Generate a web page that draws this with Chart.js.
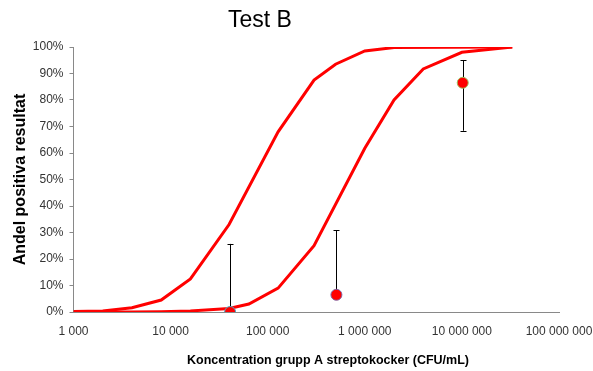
<!DOCTYPE html>
<html>
<head>
<meta charset="utf-8">
<script src="https://cdn.jsdelivr.net/npm/chart.js@4/dist/chart.umd.min.js"></script>
<style>
html,body{margin:0;padding:0;background:#fff;}
#wrap{width:593px;height:371px;position:relative;}
</style>
</head>
<body>
<div id="wrap"><canvas id="c" width="593" height="371"></canvas></div>
<script>
// ---- data ----
const chartTitle = "Test B";
const xAxisTitle = "Koncentration grupp A streptokocker (CFU/mL)";
const yAxisTitle = "Andel positiva resultat";
const xTicks = [1000, 10000, 100000, 1000000, 10000000, 100000000];
const yTicks = [0, 10, 20, 30, 40, 50, 60, 70, 80, 90, 100];

const curve1X = [1000, 2000, 4000, 8000, 16000, 40000, 128000, 300000, 500000, 1000000, 2000000, 33000000];
const curve1Y = [0.2, 0.4, 1.6, 4.5, 12.5, 33, 68, 87.5, 93.5, 98.5, 99.8, 100];
const curve2X = [1000, 2000, 4000, 8000, 16000, 40000, 64000, 128000, 300000, 1000000, 2000000, 4000000, 10000000, 33000000];
const curve2Y = [0, 0, 0, 0.1, 0.4, 1.3, 3, 9, 25, 61.8, 80, 91.7, 98, 100];

const obsX = [41000, 510000, 10200000];
const obsY = [0, 6.5, 86.5];
const obsLow = [0, 6.5, 68.4];
const obsHigh = [25.7, 30.8, 95.1];
const obsBorder = ['#4BACC6', '#8064A2', '#9BBB59'];

const toXY = (xs, ys) => xs.map((x, i) => ({x: x, y: ys[i]}));
const fmtThousands = v => String(Math.round(v)).replace(/\B(?=(\d{3})+(?!\d))/g, ' ');

const errorBars = {
  id: 'errorBars',
  beforeDatasetDraw(chart, args) {
    if (args.index !== 0) return;
    const {ctx, scales: {x, y}} = chart;
    ctx.save();
    ctx.strokeStyle = '#000';
    ctx.lineWidth = 1;
    obsX.forEach((v, i) => {
      const px = Math.round(x.getPixelForValue(v)) + 0.5;
      const yl = y.getPixelForValue(obsLow[i]);
      const yh = y.getPixelForValue(obsHigh[i]);
      ctx.beginPath();
      ctx.moveTo(px, yl); ctx.lineTo(px, yh);
      const cap = 3;
      const yhr = Math.round(yh) + 0.5;
      ctx.moveTo(px - cap, yhr); ctx.lineTo(px + cap, yhr);
      if (obsLow[i] < obsY[i]) {
        const ylr = Math.round(yl) + 0.5;
        ctx.moveTo(px - cap, ylr); ctx.lineTo(px + cap, ylr);
      }
      ctx.stroke();
    });
    ctx.restore();
  }
};

const texts = {
  id: 'texts',
  afterDraw(chart) {
    const ctx = chart.ctx;
    ctx.save();
    ctx.fillStyle = '#000';
    ctx.textAlign = 'center';
    ctx.textBaseline = 'middle';
    ctx.font = '23px "Liberation Sans", Arial, sans-serif';
    ctx.fillText(chartTitle, 260, 21);
    ctx.font = 'bold 12.5px "Liberation Sans", Arial, sans-serif';
    ctx.fillText(xAxisTitle, 328, 361);
    ctx.restore();
  }
};

new Chart(document.getElementById('c'), {
  type: 'scatter',
  data: {
    datasets: [
      {
        label: 'obs',
        data: toXY(obsX, obsY),
        backgroundColor: '#FF0000',
        borderColor: obsBorder,
        pointBorderColor: obsBorder,
        pointBackgroundColor: '#FF0000',
        pointBorderWidth: 1,
        pointRadius: 5.5,
        showLine: false,
        order: 0
      },
      {
        label: 'c1',
        data: toXY(curve1X, curve1Y),
        showLine: true,
        borderColor: '#FF0000',
        borderWidth: 3,
        pointRadius: 0,
        tension: 0,
        order: 1
      },
      {
        label: 'c2',
        data: toXY(curve2X, curve2Y),
        showLine: true,
        borderColor: '#FF0000',
        borderWidth: 3,
        pointRadius: 0,
        tension: 0,
        order: 2
      }
    ]
  },
  options: {
    responsive: false,
    animation: false,
    devicePixelRatio: 1,
    layout: {padding: {left: 0, right: 34, top: 47, bottom: 0}},
    plugins: {legend: {display: false}, tooltip: {enabled: false}, title: {display: false}},
    scales: {
      x: {
        type: 'logarithmic',
        min: 1000, max: 100000000,
        afterBuildTicks: s => { s.ticks = xTicks.map(v => ({value: v})); },
        afterFit: s => { s.height = 59; s.paddingLeft = 0; s.paddingRight = 0; },
        grid: {display: false, drawOnChartArea: false, drawTicks: true, tickLength: 4, color: '#898989'},
        border: {display: true, color: '#898989', width: 1},
        ticks: {
          autoSkip: false, maxRotation: 0, padding: 8,
          color: '#333',
          font: {family: '"Liberation Sans", Arial, sans-serif', size: 12},
          callback: v => fmtThousands(v)
        }
      },
      y: {
        min: 0, max: 100,
        afterBuildTicks: s => { s.ticks = yTicks.map(v => ({value: v})); },
        afterFit: s => { s.width = 73.5; },
        grid: {display: true, drawOnChartArea: false, drawTicks: true, tickLength: 4, color: '#898989'},
        border: {display: true, color: '#898989', width: 1},
        ticks: {
          padding: 6, color: '#333',
          font: {family: '"Liberation Sans", Arial, sans-serif', size: 12},
          callback: v => v + '%'
        },
        title: {
          display: true, text: yAxisTitle, color: '#000',
          font: {family: '"Liberation Sans", Arial, sans-serif', size: 16, weight: 'bold'},
          padding: {top: 11, bottom: 0}
        }
      }
    }
  },
  plugins: [errorBars, texts]
});
</script>
</body>
</html>
